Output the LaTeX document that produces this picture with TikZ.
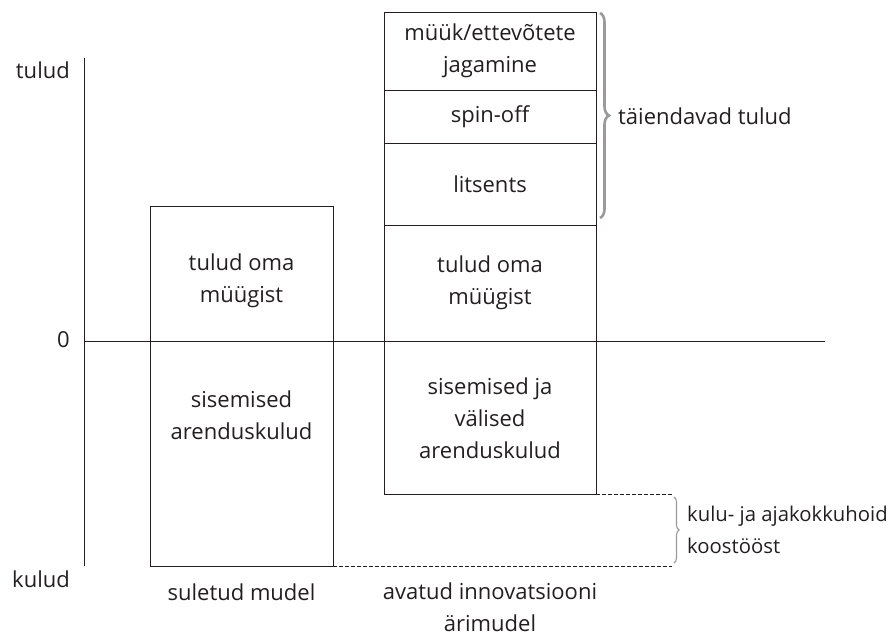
\documentclass[tikz,border=0pt]{standalone}
\usepackage{fontspec}
\setmainfont{Open Sans}
\usetikzlibrary{decorations.pathreplacing}
\definecolor{ink}{HTML}{231F20}
\definecolor{bracegray}{HTML}{9A9A9A}
\tikzset{
  frame/.style={draw=ink, line width=0.9pt},
  lbl/.style={text=ink, font=\fontsize{22}{32}\selectfont, inner sep=0pt, align=center},
  side/.style={text=ink, font=\fontsize{22}{32}\selectfont, inner sep=0pt, align=left},
  gbrace/.style={draw=bracegray, line width=2.6pt, decorate, decoration={brace, amplitude=9pt}},
  sbrace/.style={draw=bracegray, line width=1.1pt, decorate, decoration={brace, amplitude=5pt}},
  dashline/.style={draw=ink, line width=0.8pt, dash pattern=on 3.5pt off 2.5pt},
}
\begin{document}
\begin{tikzpicture}[x=1pt, y=-1pt]
\useasboundingbox (0,0) rectangle (890,635);

% axes
\coordinate (atop) at (84,58);
\coordinate (abot) at (84,566);
\coordinate (zl) at (84,341);
\coordinate (zr) at (825,341);
\draw[frame] (atop) -- (abot);
\draw[frame] (zl) -- (zr);
\node[lbl, anchor=east] (ltulud) at (70,70) {tulud};
\node[lbl, anchor=east] (lzero) at (70,340) {0};
\node[lbl, anchor=east] (lkulud) at (70,579) {kulud};

% closed model column
\draw[frame] (150,206) rectangle (333,566);
\coordinate (cbr) at (333,566);
\node[lbl] (c1) at (241.5,281) {tulud oma\\müügist};
\node[lbl] (c2) at (241.5,415) {sisemised\\arenduskulud};
\node[lbl] (cl) at (241.5,592) {suletud mudel};

% open innovation column
\draw[frame] (384,12) rectangle (596,494);
\draw[frame] (384,90) -- (596,90);
\draw[frame] (384,143) -- (596,143);
\draw[frame] (384,225) -- (596,225);
\coordinate (obr) at (596,494);
\node[lbl] (o1) at (490,51) {müük/ettevõtete\\jagamine};
\node[lbl] (o2) at (490,117) {spin-off};
\node[lbl] (o3) at (490,184) {litsents};
\node[lbl] (o4) at (490,283) {tulud oma\\müügist};
\node[lbl] (o5) at (490,418) {sisemised ja\\välised\\arenduskulud};
\node[lbl] (ol) at (490,607) {avatud innovatsiooni\\ärimudel};

% additional revenue brace
\coordinate (b1t) at (600,13);
\coordinate (b1b) at (600,218);
\draw[gbrace] (b1t) -- (b1b);
\node[side, anchor=west] (tt) at (618,116) {täiendavad tulud};

% savings from cooperation
\coordinate (d1) at (672,494);
\coordinate (d2) at (672,566);
\draw[dashline] (obr) -- (d1);
\draw[dashline] (cbr) -- (d2);
\coordinate (b2t) at (674,497);
\coordinate (b2b) at (674,563);
\draw[sbrace] (b2t) -- (b2b);
\node[side, anchor=west, font=\fontsize{20.3}{32}\selectfont] (kk) at (687,530) {kulu- ja ajakokkuhoid\\koostööst};
\end{tikzpicture}
\end{document}
